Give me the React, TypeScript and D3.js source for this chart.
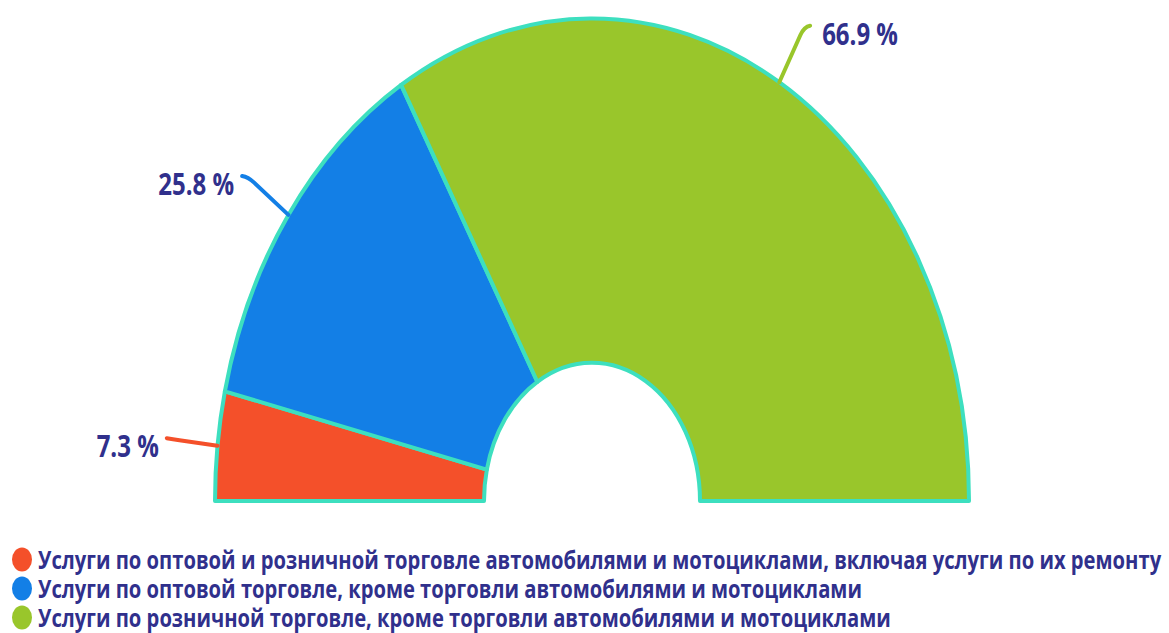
import { useEffect, useRef } from 'react';
import * as d3 from 'd3';

// values, %
const categories = [
  'Услуги по оптовой и розничной торговле автомобилями и мотоциклами, включая услуги по их ремонту',
  'Услуги по оптовой торговле, кроме торговли автомобилями и мотоциклами',
  'Услуги по розничной торговле, кроме торговли автомобилями и мотоциклами',
];
const shares = [7.3, 25.8, 66.9];
const shareLabels = ['7.3 %', '25.8 %', '66.9 %'];
const colors = ['#f4502a', '#137fe6', '#99c62b'];

const App = () => {
  const svgRef = useRef<SVGSVGElement | null>(null);

  useEffect(() => {
    const svg = d3.select(svgRef.current);
    svg.selectAll('*').remove();

    const width = 1169;
    const height = 633;
    svg.attr('width', width).attr('height', height);

    // the picture is stretched vertically
    const sy = 1.28;
    const cx = 592;
    const cy = 501;
    const outerR = 377;
    const innerR = 108;
    const strokeColor = '#3ddfbf';
    const textColor = '#30308c';

    const data = shares.map((v, i) => ({ value: v, label: shareLabels[i], color: colors[i] }));

    const pie = d3.pie<{ value: number; label: string; color: string }>()
      .value(d => d.value)
      .sort(null)
      .startAngle(-Math.PI / 2)
      .endAngle(Math.PI / 2);

    const arc = d3.arc<d3.PieArcDatum<{ value: number; label: string; color: string }>>()
      .innerRadius(innerR)
      .outerRadius(outerR);

    const arcs = pie(data);

    const g = svg.append('g')
      .attr('transform', `translate(${cx},${cy}) scale(1,${sy})`);

    g.selectAll('path.slice')
      .data(arcs)
      .enter()
      .append('path')
      .attr('class', 'slice')
      .attr('d', arc)
      .attr('fill', d => d.data.color)
      .attr('stroke', strokeColor)
      .attr('stroke-width', 4)
      .attr('stroke-linejoin', 'round')
      .attr('vector-effect', 'non-scaling-stroke');

    // leader lines + labels
    arcs.forEach(d => {
      const a = (d.startAngle + d.endAngle) / 2;
      const side = Math.sin(a) < 0 ? -1 : 1;
      const elbowR = d.data.value < 10 ? 422 : 427;
      const p0 = [cx + outerR * Math.sin(a), cy - outerR * Math.cos(a) * sy];
      const p1 = [cx + elbowR * Math.sin(a), cy - elbowR * Math.cos(a) * sy];
      const p2 = [p1[0] + side * 6, p1[1] - 1];

      const path = d3.path();
      path.moveTo(p0[0], p0[1]);
      const t = 0.85;
      path.lineTo(p0[0] + (p1[0] - p0[0]) * t, p0[1] + (p1[1] - p0[1]) * t);
      path.quadraticCurveTo(p1[0], p1[1], p2[0], p2[1]);

      svg.append('path')
        .attr('d', path.toString())
        .attr('fill', 'none')
        .attr('stroke', d.data.color)
        .attr('stroke-width', 4)
        .attr('stroke-linecap', 'round')
        .attr('stroke-linejoin', 'round');

      svg.append('text')
        .attr('transform', `translate(${p2[0] + side * (side < 0 ? 8 : 12)},${p1[1] + 18}) scale(1,${sy})`)
        .attr('text-anchor', side < 0 ? 'end' : 'start')
        .attr('font-family', '"Open Sans", sans-serif')
        .attr('font-weight', 700)
        .attr('font-size', 24)
        .attr('fill', textColor)
        .text(d.data.label);
    });

    // legend
    const legendY = d3.scaleBand<number>()
      .domain(categories.map((_, i) => i))
      .range([545, 632]);

    const legend = svg.append('g');
    const items = legend.selectAll('g.item')
      .data(categories)
      .enter()
      .append('g')
      .attr('class', 'item')
      .attr('transform', (_, i) => `translate(0,${legendY(i)! + legendY.bandwidth() / 2})`);

    items.append('ellipse')
      .attr('cx', 22)
      .attr('cy', 0)
      .attr('rx', 10)
      .attr('ry', 12)
      .attr('fill', (_, i) => colors[i]);

    items.append('text')
      .attr('transform', 'translate(38,9) scale(1,1.2)')
      .attr('font-family', '"Open Sans", sans-serif')
      .attr('font-weight', 700)
      .attr('font-size', 20.2)
      .attr('fill', textColor)
      .text(d => d);
  }, []);

  return (
    <svg
      ref={svgRef}
      style={{ position: 'absolute', left: 0, top: 0, display: 'block' }}
    ></svg>
  );
};

export default App;
